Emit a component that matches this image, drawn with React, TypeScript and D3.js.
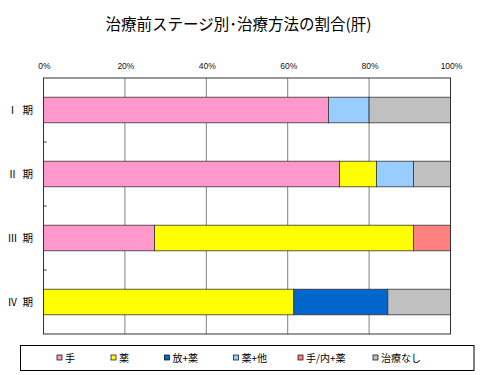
import React from "react";
import * as d3 from "d3";

const categories = ["Ⅰ期", "Ⅱ期", "Ⅲ期", "Ⅳ期"];
const seriesNames = ["手", "薬", "放+薬", "薬+他", "手/内+薬", "治療なし"];
const seriesColors = ["#FF99CC", "#FFFF00", "#0066CC", "#99CCFF", "#FF8080", "#C0C0C0"];
// percentages per category, in series order
const vTe = [70.0, 72.7, 27.3, 0];
const vKusuri = [0, 9.1, 63.6, 61.5];
const vHouKusuri = [0, 0, 0, 23.1];
const vKusuriHoka = [10.0, 9.1, 0, 0];
const vTeNaiKusuri = [0, 0, 9.1, 0];
const vNashi = [20.0, 9.1, 0, 15.4];
const tickValues = [0, 20, 40, 60, 80, 100];
const title = "治療前ステージ別･治療方法の割合(肝)";

const seriesValues = [vTe, vKusuri, vHouKusuri, vKusuriHoka, vTeNaiKusuri, vNashi];

export default function App() {
  const W = 480, H = 375;
  const left = 43.5, right = 450.5, top = 78, bottom = 334;
  const x = d3.scaleLinear().domain([0, 100]).range([left, right]);
  const y = d3.scaleBand().domain(categories).range([top, bottom]).paddingInner(0.6).paddingOuter(0.3);

  const rows = categories.map((c, i) => {
    const obj: any = { cat: c };
    seriesNames.forEach((s, j) => (obj[s] = seriesValues[j][i]));
    return obj;
  });
  const stacked = d3.stack().keys(seriesNames)(rows);

  const jp = "'Noto Sans CJK JP', sans-serif";
  const legendX = [57, 111, 164.5, 233.5, 298, 373];

  return (
    <svg width={W} height={H} style={{ position: "absolute", left: 0, top: 0 }}>
      <rect x={0} y={0} width={W} height={H} fill="#fff" />
      <text x={238.5} y={30} textAnchor="middle" fontFamily={jp} fontSize={15.5} fill="#000">
        {title}
      </text>
      {tickValues.map((t) => (
        <text key={t} x={x(t) + 1} y={69} textAnchor="middle" fontFamily="'Liberation Sans', Arial, sans-serif" fontSize={8.5} fill="#111">
          {t}%
        </text>
      ))}
      {tickValues.slice(1, -1).map((t) => (
        <line key={t} x1={x(t)} x2={x(t)} y1={top} y2={bottom} stroke="#808080" strokeWidth={1} />
      ))}
      {stacked.map((layer, j) =>
        layer.map((d, i) =>
          d[1] - d[0] > 0 ? (
            <rect
              key={j + "-" + i}
              x={x(d[0])}
              y={y(categories[i])!}
              width={x(d[1]) - x(d[0])}
              height={y.bandwidth()}
              fill={seriesColors[j]}
              stroke="#333"
              strokeWidth={0.8}
            />
          ) : null
        )
      )}
      <rect x={left} y={top} width={right - left} height={bottom - top} fill="none" stroke="#333" strokeWidth={1} />
      {categories.slice(1).map((c) => {
        const yy = y(c)! - (y.step() * y.paddingInner()) / 2;
        return <line key={c} x1={left} x2={left + 3} y1={yy} y2={yy} stroke="#333" strokeWidth={1} />;
      })}
      {categories.map((c) => (
        <g key={c}>
          <text x={17.5} y={y(c)! + y.bandwidth() / 2 + 4} textAnchor="end" fontFamily={jp} fontSize={10} fill="#000">
            {c.slice(0, 1)}
          </text>
          <text x={22.5} y={y(c)! + y.bandwidth() / 2 + 4} textAnchor="start" fontFamily={jp} fontSize={10.5} fill="#000">
            {c.slice(1)}
          </text>
        </g>
      ))}
      <rect x={20.5} y={345.5} width={453.5} height={25} fill="#fff" stroke="#000" strokeWidth={1} />
      {seriesNames.map((s, j) => (
        <g key={s}>
          <rect x={legendX[j]} y={355} width={5} height={5} fill={seriesColors[j]} stroke="#000" strokeWidth={0.7} />
          <text x={legendX[j] + 8} y={361.5} fontFamily={jp} fontSize={10} fill="#000">
            {s}
          </text>
        </g>
      ))}
    </svg>
  );
}
